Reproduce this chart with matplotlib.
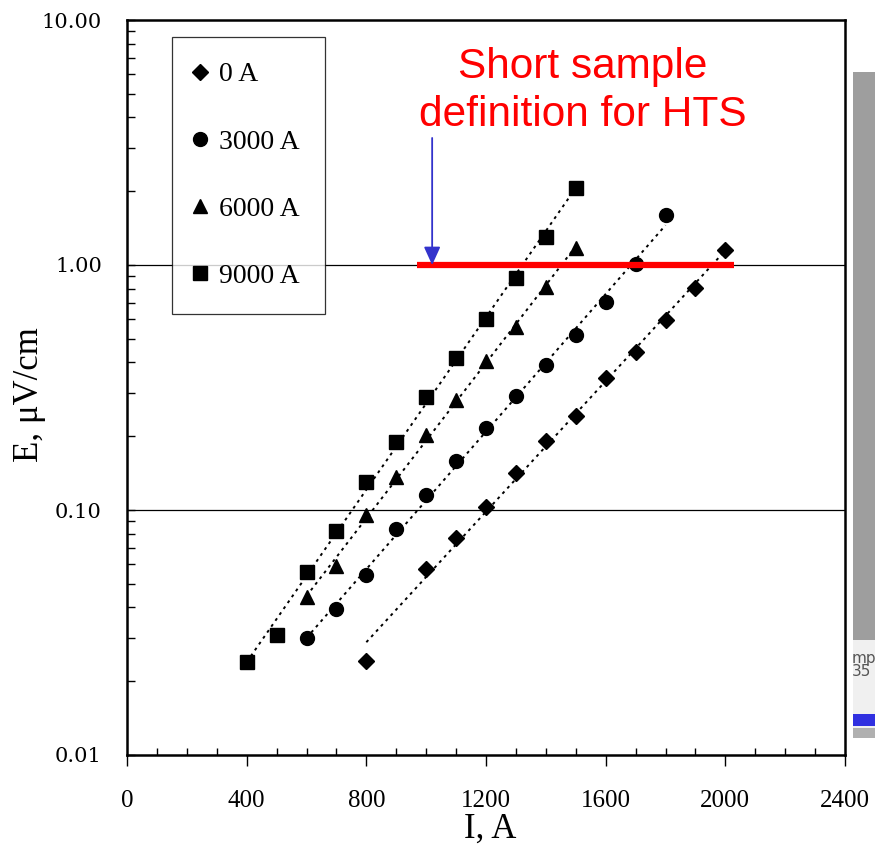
import numpy as np
import matplotlib
matplotlib.use("Agg")
import matplotlib.pyplot as plt
from matplotlib.patches import Rectangle
from matplotlib.ticker import FixedLocator, MultipleLocator, LogLocator, FormatStrFormatter, NullFormatter

# current (A) and electric field (uV/cm) for each background field
i_0 = [800, 1000, 1100, 1200, 1300, 1400, 1500, 1600, 1700, 1800, 1900, 2000]
e_0 = [0.0241, 0.0577, 0.077, 0.103, 0.141, 0.192, 0.242, 0.346, 0.44, 0.597, 0.805, 1.15]

i_3000 = [600, 700, 800, 900, 1000, 1100, 1200, 1300, 1400, 1500, 1600, 1700, 1800]
e_3000 = [0.0299, 0.0396, 0.0545, 0.084, 0.115, 0.159, 0.216, 0.292, 0.391, 0.518, 0.706, 1.01, 1.60]

i_6000 = [600, 700, 800, 900, 1000, 1100, 1200, 1300, 1400, 1500]
e_6000 = [0.0443, 0.0593, 0.095, 0.137, 0.203, 0.282, 0.406, 0.559, 0.813, 1.17]

i_9000 = [400, 500, 600, 700, 800, 900, 1000, 1100, 1200, 1300, 1400, 1500]
e_9000 = [0.0239, 0.031, 0.056, 0.082, 0.130, 0.19, 0.29, 0.418, 0.602, 0.885, 1.30, 2.06]

labels = ["0 A", "3000 A", "6000 A", "9000 A"]
markers = ["D", "o", "^", "s"]
msizes = [8, 10, 10, 10]

criterion = 1.0
crit_range = [970, 2030]
arrow_x = 1020
arrow_top = 3.3

plt.rcParams['font.family'] = ['Liberation Serif', 'DejaVu Serif']

fig = plt.figure(figsize=(8.75, 8.51), dpi=100)
ax = fig.add_axes([127 / 875, 1 - 755 / 851, 718 / 875, 735 / 851])

series = [(i_0, e_0), (i_3000, e_3000), (i_6000, e_6000), (i_9000, e_9000)]
for (xs, ys), lab, mk, ms in zip(series, labels, markers, msizes):
    xs = np.array(xs, dtype=float)
    ys = np.array(ys)
    # exponential trend line through the points
    k, b = np.polyfit(xs, np.log10(ys), 1)
    ax.plot(xs, 10 ** (k * xs + b), color='black', lw=1.4, ls=(0, (1.5, 2.2)), zorder=2)
    ax.plot(xs, ys, ls='none', marker=mk, ms=ms, color='black', label=lab, zorder=3)

for g in [0.1, 1.0]:
    ax.axhline(g, color='black', lw=0.9, zorder=1)

ax.plot(crit_range, [criterion, criterion], color='#ff0000', lw=4.5, zorder=4, solid_capstyle='butt')
ax.annotate('', xy=(arrow_x, criterion), xytext=(arrow_x, arrow_top),
            arrowprops=dict(arrowstyle='-|>,head_length=1.1,head_width=0.5',
                            color='#3333cc', lw=1.3, shrinkA=0, shrinkB=0), zorder=5)
ax.text(1524, 10 ** 0.71, "Short sample\ndefinition for HTS", color='#ff0000',
        fontsize=30.5, family='Liberation Sans', ha='center', va='center', linespacing=1.25)

ax.set_yscale('log')
ax.set_xlim(0, 2400)
ax.set_ylim(0.01, 10)

ax.xaxis.set_major_locator(MultipleLocator(400))
ax.xaxis.set_minor_locator(MultipleLocator(100))
ax.yaxis.set_major_locator(FixedLocator([0.01, 0.1, 1, 10]))
ax.yaxis.set_minor_locator(LogLocator(base=10, subs=np.arange(2, 10)))
ax.yaxis.set_major_formatter(FormatStrFormatter('%.2f'))
ax.yaxis.set_minor_formatter(NullFormatter())

ax.tick_params(axis='x', which='major', direction='out', length=8, width=1, labelsize=18, pad=17)
ax.tick_params(axis='x', which='minor', direction='in', length=5, width=1)
ax.tick_params(axis='y', which='major', direction='in', length=6, width=1, labelsize=15, pad=18)
ax.tick_params(axis='y', which='minor', direction='in', length=6, width=1)
for t in ax.get_yticklabels():
    t.set_family('DejaVu Serif')
for sp in ax.spines.values():
    sp.set_linewidth(1.8)

ax.set_xlabel("I, A", fontsize=25)
ax.set_ylabel("E, \u03bcV/cm", fontsize=25)
ax.xaxis.set_label_coords((490 - 127) / 718, (755 - 829) / 735)
ax.xaxis.label.set_va('center')
ax.yaxis.set_label_coords((30 - 127) / 718, (755 - 395) / 735)
ax.yaxis.label.set_va('center')

leg = ax.legend(loc='upper left', bbox_to_anchor=(45 / 718, 1 - 17 / 735), fontsize=20,
                frameon=True, fancybox=False, labelspacing=1.5, handlelength=0.25,
                handletextpad=0.55, borderpad=0.9, borderaxespad=0)
leg.get_frame().set_edgecolor('black')
leg.get_frame().set_linewidth(0.9)

# grey side panel visible at the right edge of the screenshot
fig.add_artist(Rectangle((853 / 875, 1 - 640 / 851), 30 / 875, 568 / 851,
                         transform=fig.transFigure, color='#9e9e9e', lw=0))
fig.add_artist(Rectangle((853 / 875, 1 - 738 / 851), 30 / 875, 98 / 851,
                         transform=fig.transFigure, color='#f0f0f0', lw=0))
fig.add_artist(Rectangle((853 / 875, 1 - 738 / 851), 30 / 875, 10 / 851,
                         transform=fig.transFigure, color='#b0b0b0', lw=0))
fig.add_artist(Rectangle((853 / 875, 1 - 726 / 851), 30 / 875, 12 / 851,
                         transform=fig.transFigure, color='#3030e0', lw=0))
fig.text(852 / 875, 1 - 658 / 851, "mp", fontsize=11, color='#555555', family='DejaVu Sans', va='center')
fig.text(852 / 875, 1 - 672 / 851, "35", fontsize=11, color='#555555', family='DejaVu Sans', va='center')

fig.savefig("out.png", dpi=100)
